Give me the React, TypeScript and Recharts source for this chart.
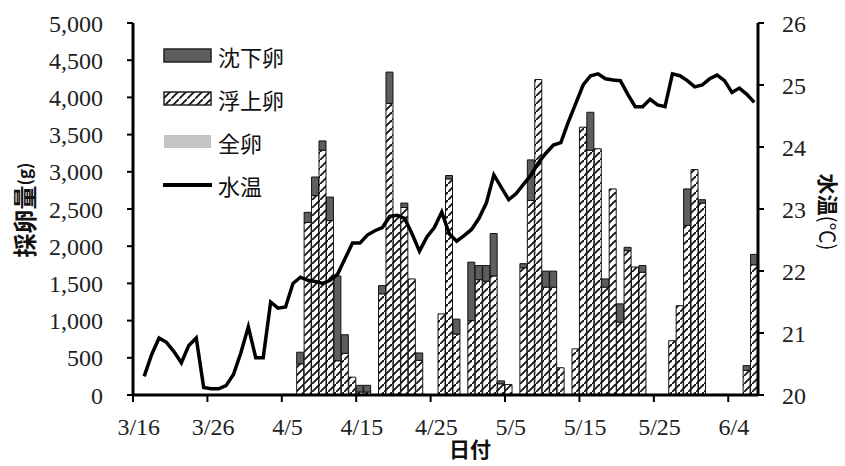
import React from 'react';
import { ComposedChart, Bar, Line, XAxis, YAxis, Legend } from 'recharts';

// 日付 (3/16 - 6/7)
const dates = [
  '3/16', '3/17', '3/18', '3/19', '3/20', '3/21', '3/22', '3/23', '3/24', '3/25', '3/26', '3/27', '3/28', '3/29', '3/30', '3/31',
  '4/1', '4/2', '4/3', '4/4', '4/5', '4/6', '4/7', '4/8', '4/9', '4/10', '4/11', '4/12', '4/13', '4/14', '4/15',
  '4/16', '4/17', '4/18', '4/19', '4/20', '4/21', '4/22', '4/23', '4/24', '4/25', '4/26', '4/27', '4/28', '4/29', '4/30',
  '5/1', '5/2', '5/3', '5/4', '5/5', '5/6', '5/7', '5/8', '5/9', '5/10', '5/11', '5/12', '5/13', '5/14', '5/15',
  '5/16', '5/17', '5/18', '5/19', '5/20', '5/21', '5/22', '5/23', '5/24', '5/25', '5/26', '5/27', '5/28', '5/29', '5/30', '5/31',
  '6/1', '6/2', '6/3', '6/4', '6/5', '6/6', '6/7',
];

// 浮上卵 (g)
const floating = [
  0, 0, 0, 0, 0, 0, 0, 0, 0, 0, 0, 0, 0, 0, 0, 0,
  0, 0, 0, 0, 0, 0, 420, 2320, 2680, 3290, 2345, 460, 560, 240, 40,
  40, 0, 1360, 3920, 2420, 2520, 1560, 465, 0, 0, 1090, 2905, 820, 0, 1000,
  1550, 1530, 1600, 150, 140, 0, 1710, 2615, 4240, 1450, 1450, 366, 0, 620, 3600,
  3290, 3310, 1450, 2770, 980, 1940, 1720, 1650, 0, 0, 0, 730, 1200, 2280, 3030, 2580,
  0, 0, 0, 0, 0, 330, 1750,
];

// 沈下卵 (g)
const sinking = [
  0, 0, 0, 0, 0, 0, 0, 0, 0, 0, 0, 0, 0, 0, 0, 0,
  0, 0, 0, 0, 0, 0, 155, 135, 250, 125, 315, 1140, 250, 0, 90,
  90, 0, 110, 420, 0, 60, 0, 100, 0, 0, 0, 45, 200, 0, 785,
  190, 210, 570, 40, 0, 0, 55, 545, 0, 215, 215, 0, 0, 0, 0,
  510, 0, 110, 0, 245, 45, 0, 90, 0, 0, 0, 0, 0, 490, 0, 45,
  0, 0, 0, 0, 0, 65, 140,
];

// 全卵 (g) — days not separated
const whole = [
  0, 0, 0, 0, 0, 0, 0, 0, 0, 0, 0, 0, 0, 0, 0, 0,
  0, 0, 0, 0, 20, 20, 0, 0, 0, 0, 0, 0, 0, 0, 0,
  0, 0, 0, 0, 0, 0, 0, 0, 0, 0, 0, 0, 0, 0, 0,
  0, 0, 0, 0, 0, 0, 0, 0, 0, 0, 0, 0, 0, 0, 0,
  0, 0, 0, 0, 0, 0, 0, 0, 0, 0, 0, 0, 0, 0, 0, 0,
  0, 20, 20, 0, 0, 0, 0,
];

// 水温 (℃)
const waterTemp = [
  null, 20.3, 20.65, 20.92, 20.85, 20.7, 20.52, 20.8, 20.92, 20.12, 20.1, 20.1, 20.15, 20.33, 20.68, 21.1,
  20.6, 20.6, 21.5, 21.4, 21.42, 21.8, 21.9, 21.85, 21.83, 21.8, 21.85, 21.95, 22.2, 22.45, 22.45,
  22.58, 22.65, 22.7, 22.88, 22.9, 22.85, 22.6, 22.32, 22.55, 22.7, 22.95, 22.6, 22.48, 22.57, 22.67,
  22.85, 23.1, 23.55, 23.35, 23.15, 23.25, 23.4, 23.55, 23.75, 23.9, 24.03, 24.07, 24.4, 24.7, 25.0,
  25.15, 25.18, 25.1, 25.08, 25.07, 24.85, 24.65, 24.65, 24.77, 24.68, 24.65, 25.18, 25.15, 25.07, 24.97, 25.0,
  25.1, 25.16, 25.07, 24.88, 24.95, 24.85, 24.72,
];

const eggTicks = [0, 500, 1000, 1500, 2000, 2500, 3000, 3500, 4000, 4500, 5000];
const tempTicks = [20, 21, 22, 23, 24, 25, 26];

const data = dates.map((d, i) => ({
  date: d,
  floating: floating[i],
  sinking: sinking[i],
  whole: whole[i],
  temp: waterTemp[i],
}));

const W = 845;
const H = 466;
const LEFT_W = 133;
const RIGHT_W = 87;
const TOP = 23;
const X_H = 71;
const BAND = (W - LEFT_W - RIGHT_W) / dates.length;

const NUM_FONT = '"Liberation Serif", "DejaVu Serif", serif';
const JP_FONT = '"Noto Sans CJK JP", "Noto Sans", sans-serif';

const DateTick = (props: any) => {
  const { x, y, payload } = props;
  const bx = x - BAND / 2;
  return (
    <g>
      <line x1={bx} y1={y} x2={bx} y2={y + 7} stroke="#000" strokeWidth={2} />
      <text x={x + 2} y={y + 40} textAnchor="middle" fontFamily={NUM_FONT} fontSize={24} fill="#222">
        {payload.value}
      </text>
    </g>
  );
};

const LegendBox = () => {
  const rows = [
    { key: 'sink', label: '沈下卵' },
    { key: 'float', label: '浮上卵' },
    { key: 'whole', label: '全卵' },
    { key: 'temp', label: '水温' },
  ];
  return (
    <div style={{ fontFamily: JP_FONT, fontSize: 22, color: '#111', lineHeight: 1 }}>
      {rows.map(r => (
        <div key={r.key} style={{ display: 'flex', alignItems: 'center', height: 43 }}>
          <svg width={50} height={16} style={{ marginRight: 5 }}>
            {r.key === 'sink' && <rect x={1} y={1} width={47} height={13} fill="#5e5e5e" stroke="#222" strokeWidth={1.5} />}
            {r.key === 'float' && <rect x={1} y={1} width={47} height={13} fill="url(#hatch)" stroke="#222" strokeWidth={1.5} />}
            {r.key === 'whole' && <rect x={1} y={1} width={47} height={13} fill="#c4c4c4" />}
            {r.key === 'temp' && <line x1={0} y1={8} x2={49} y2={8} stroke="#000" strokeWidth={4} />}
          </svg>
          <span>{r.label}</span>
        </div>
      ))}
    </div>
  );
};

export default function App() {
  return (
    <div style={{ position: 'absolute', left: 0, top: 0, width: W, height: H, background: '#fff' }}>
      <ComposedChart
        width={W}
        height={H}
        data={data}
        margin={{ top: TOP, right: 0, bottom: 0, left: 0 }}
        barCategoryGap={0}
        barGap={0}
      >
        <defs>
          <pattern id="hatch" patternUnits="userSpaceOnUse" width={8} height={8}>
            <rect width={8} height={8} fill="#fff" />
            <path d="M-1,9 L9,-1" stroke="#111" strokeWidth={1.8} />
          </pattern>
        </defs>
        <XAxis
          dataKey="date"
          interval={9}
          height={X_H}
          tickSize={0}
          tickMargin={0}
          tickLine={false}
          axisLine={{ stroke: '#000', strokeWidth: 3 }}
          tick={<DateTick />}
        />
        <YAxis
          yAxisId="egg"
          width={LEFT_W}
          domain={[0, 5000]}
          ticks={eggTicks}
          interval={0}
          tickSize={6}
          tickMargin={24}
          tickFormatter={(v: number) => v.toLocaleString('en-US')}
          axisLine={{ stroke: '#000', strokeWidth: 3 }}
          tickLine={{ stroke: '#000', strokeWidth: 2 }}
          tick={{ fontFamily: NUM_FONT, fontSize: 24, fill: '#222' }}
        />
        <YAxis
          yAxisId="temp"
          orientation="right"
          width={RIGHT_W}
          domain={[20, 26]}
          ticks={tempTicks}
          interval={0}
          tickSize={6}
          tickMargin={18}
          axisLine={{ stroke: '#000', strokeWidth: 3 }}
          tickLine={{ stroke: '#000', strokeWidth: 2 }}
          tick={{ fontFamily: NUM_FONT, fontSize: 24, fill: '#222' }}
        />
        <Legend
          verticalAlign="middle"
          align="center"
          layout="vertical"
          content={<LegendBox />}
          wrapperStyle={{ left: 163, top: 34, width: 'auto' }}
        />
        <Bar yAxisId="egg" dataKey="floating" name="浮上卵" stackId="e" fill="url(#hatch)" stroke="#111" strokeWidth={1} isAnimationActive={false} />
        <Bar yAxisId="egg" dataKey="sinking" name="沈下卵" stackId="e" fill="#5e5e5e" stroke="#111" strokeWidth={1} isAnimationActive={false} />
        <Bar yAxisId="egg" dataKey="whole" name="全卵" stackId="e" fill="#c4c4c4" isAnimationActive={false} />
        <Line yAxisId="temp" dataKey="temp" name="水温" type="linear" stroke="#000" strokeWidth={3.5} dot={false} isAnimationActive={false} />
        <text
          transform="translate(23,210) rotate(-90)"
          textAnchor="middle"
          dominantBaseline="central"
          fontFamily={JP_FONT}
          fontWeight="bold"
          fontSize={24}
          fill="#111"
        >
          採卵量<tspan fontSize={17}>(g)</tspan>
        </text>
        <text
          transform="translate(829,212) rotate(90)"
          textAnchor="middle"
          dominantBaseline="central"
          fontFamily={JP_FONT}
          fontWeight="bold"
          fontSize={21}
          fill="#111"
        >
          水温<tspan fontWeight="normal">(℃)</tspan>
        </text>
        <text x={470} y={457} textAnchor="middle" fontFamily={JP_FONT} fontWeight="bold" fontSize={21} fill="#111">
          日付
        </text>
      </ComposedChart>
    </div>
  );
}
